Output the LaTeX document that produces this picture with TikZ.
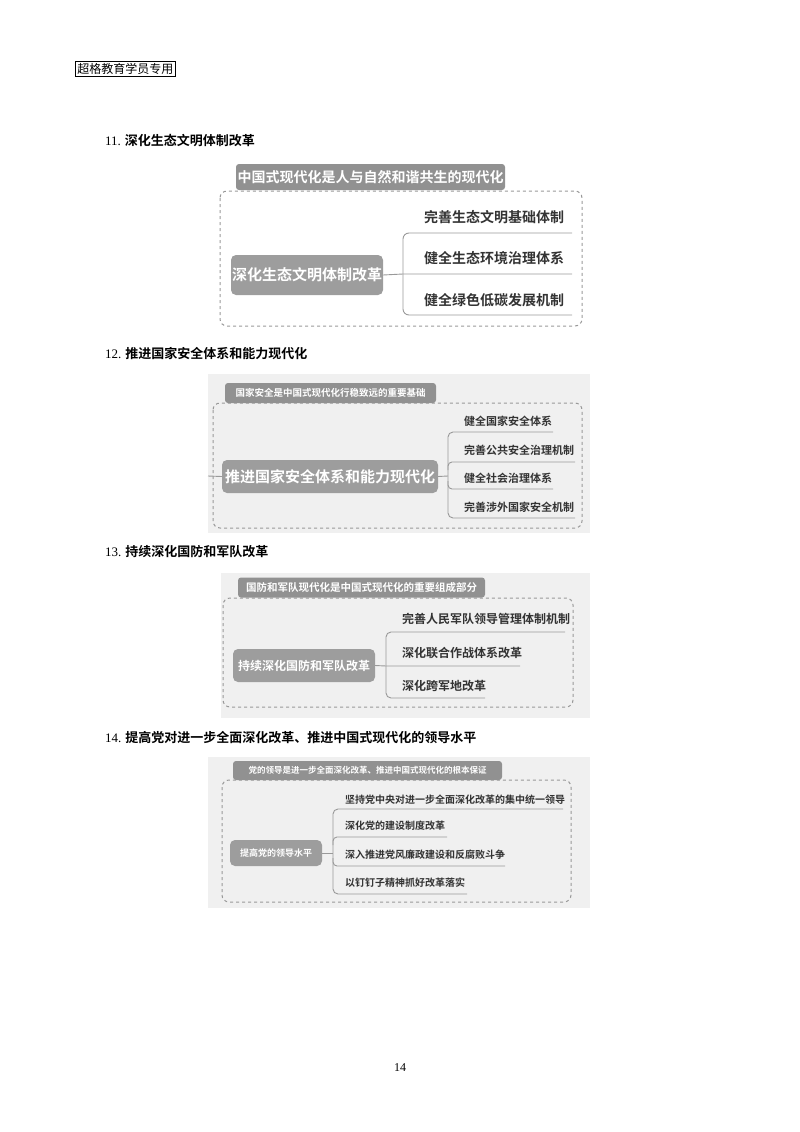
\documentclass[tikz,border=0pt]{standalone}
\usepackage{fontspec}
\setmainfont{Liberation Serif}
\newfontfamily\cjk{Noto Sans CJK SC}
\newfontfamily\cjkb{Noto Sans CJK SC Bold}
\begin{document}
\begin{tikzpicture}[x=1pt,y=-1pt,
  tabbox/.style={fill=gray!85!black!75,text=white,rounded corners=3pt,inner sep=0pt,font=\cjkb},
  ctr/.style={fill=gray!90!black!70,text=white,rounded corners=5pt,inner sep=0pt,font=\cjkb},
  dbox/.style={draw=gray!80,dashed,line width=1pt,rounded corners=7pt},
  bgbox/.style={fill=gray!12,draw=none},
  item/.style={anchor=west,inner sep=0pt,font=\cjkb,text=black!80},
  br/.style={draw=gray!80,line width=0.9pt},
  head/.style={anchor=west,inner sep=0pt,font=\cjkb\fontsize{13}{15}\selectfont}]
\useasboundingbox (0,0) rectangle (800,1132);
% header
\node[draw,line width=0.6pt,inner sep=2pt,anchor=west,font=\cjk\fontsize{12}{14}\selectfont] (hdr) at (75,69) {超格教育学员专用};
\node[head] (h11) at (105,141) {{\rmfamily 11.} 深化生态文明体制改革};
\node[head] (h12) at (105,354) {{\rmfamily 12.} 推进国家安全体系和能力现代化};
\node[head] (h13) at (105,552) {{\rmfamily 13.} 持续深化国防和军队改革};
\node[head] (h14) at (105,738) {{\rmfamily 14.} 提高党对进一步全面深化改革、推进中国式现代化的领导水平};
\node[font=\rmfamily\fontsize{12}{14}\selectfont] (pg) at (400,1068) {14};

% ===== Diagram 1
\path[dbox] (220,191) rectangle (582,326);
\node[tabbox,minimum width=269pt,minimum height=26pt,font=\cjkb\fontsize{14}{16}\selectfont] (t1) at (370.5,177) {中国式现代化是人与自然和谐共生的现代化};
\node[ctr,minimum width=152pt,minimum height=40pt,font=\cjkb\fontsize{15}{17}\selectfont] (c1) at (307,275) {深化生态文明体制改革};
\node[item,font=\cjkb\fontsize{14}{16}\selectfont] (a1) at (424,217) {完善生态文明基础体制};
\node[item,font=\cjkb\fontsize{14}{16}\selectfont] (a2) at (424,258) {健全生态环境治理体系};
\node[item,font=\cjkb\fontsize{14}{16}\selectfont] (a3) at (424,300) {健全绿色低碳发展机制};
\coordinate (e1) at (572,233); \coordinate (e2) at (572,274); \coordinate (e3) at (572,315);
\draw[br,rounded corners=6pt] (e1) -- (403,233) -- (403,315) -- (e3);
\draw[br] (c1.east) -- (403,274) -- (e2);

% ===== Diagram 2
\path[bgbox] (208,374) rectangle (590,533);
\path[dbox] (213,403) rectangle (582,528);
\node[tabbox,minimum width=211pt,minimum height=20pt,font=\cjkb\fontsize{9.5}{11}\selectfont] (t2) at (330.5,393) {国家安全是中国式现代化行稳致远的重要基础};
\node[ctr,minimum width=216pt,minimum height=33pt,font=\cjkb\fontsize{15}{17}\selectfont] (c2) at (330,476.5) {推进国家安全体系和能力现代化};
\coordinate (s2) at (208,476);
\draw[br] (s2) -- (c2.west);
\node[item,font=\cjkb\fontsize{11}{13}\selectfont] (b1) at (464,421) {健全国家安全体系};
\node[item,font=\cjkb\fontsize{11}{13}\selectfont] (b2) at (464,450) {完善公共安全治理机制};
\node[item,font=\cjkb\fontsize{11}{13}\selectfont] (b3) at (464,478) {健全社会治理体系};
\node[item,font=\cjkb\fontsize{11}{13}\selectfont] (b4) at (464,507) {完善涉外国家安全机制};
\coordinate (f1) at (553,432); \coordinate (f2) at (575,462); \coordinate (f3) at (553,489); \coordinate (f4) at (575,518);
\draw[br,rounded corners=5pt] (f1) -- (448,432) -- (448,518) -- (f4);
\draw[br,rounded corners=4pt] (f2) -- (448,462) -- (448,470);
\draw[br,rounded corners=4pt] (f3) -- (448,489) -- (448,481);
\draw[br] (c2.east) -- (448,476);

% ===== Diagram 3
\path[bgbox] (221,573) rectangle (590,718);
\path[dbox] (223,598) rectangle (573,707);
\node[tabbox,minimum width=247pt,minimum height=20pt,font=\cjkb\fontsize{10.5}{12}\selectfont] (t3) at (361.5,587.5) {国防和军队现代化是中国式现代化的重要组成部分};
\node[ctr,minimum width=142pt,minimum height=33pt,font=\cjkb\fontsize{12}{14}\selectfont] (c3) at (304,665.5) {持续深化国防和军队改革};
\node[item,font=\cjkb\fontsize{12}{14}\selectfont] (d1) at (402,619) {完善人民军队领导管理体制机制};
\node[item,font=\cjkb\fontsize{12}{14}\selectfont] (d2) at (402,653) {深化联合作战体系改革};
\node[item,font=\cjkb\fontsize{12}{14}\selectfont] (d3) at (402,686) {深化跨军地改革};
\coordinate (g1) at (565,632); \coordinate (g2) at (520,666); \coordinate (g3) at (485,698);
\draw[br,rounded corners=5pt] (g1) -- (386,632) -- (386,698) -- (g3);
\draw[br] (c3.east) -- (386,666) -- (g2);

% ===== Diagram 4
\path[bgbox] (208,757) rectangle (590,908);
\path[dbox] (222,780) rectangle (571,902);
\node[tabbox,minimum width=269pt,minimum height=19pt,font=\cjkb\fontsize{8.5}{10}\selectfont] (t4) at (367.5,770.5) {党的领导是进一步全面深化改革、推进中国式现代化的根本保证};
\node[ctr,minimum width=92pt,minimum height=26pt,font=\cjkb\fontsize{9}{11}\selectfont] (c4) at (276,853) {提高党的领导水平};
\node[item,font=\cjkb\fontsize{10}{12}\selectfont] (k1) at (345,800) {坚持党中央对进一步全面深化改革的集中统一领导};
\node[item,font=\cjkb\fontsize{10}{12}\selectfont] (k2) at (345,826) {深化党的建设制度改革};
\node[item,font=\cjkb\fontsize{10}{12}\selectfont] (k3) at (345,855) {深入推进党风廉政建设和反腐败斗争};
\node[item,font=\cjkb\fontsize{10}{12}\selectfont] (k4) at (345,883) {以钉钉子精神抓好改革落实};
\coordinate (m1) at (563,809); \coordinate (m2) at (447,837); \coordinate (m3) at (505,866); \coordinate (m4) at (467,894);
\draw[br,rounded corners=5pt] (m1) -- (333,809) -- (333,894) -- (m4);
\draw[br,rounded corners=4pt] (m2) -- (333,837) -- (333,845);
\draw[br,rounded corners=4pt] (m3) -- (333,866) -- (333,858);
\draw[br] (c4.east) -- (333,853);
\end{tikzpicture}
\end{document}
